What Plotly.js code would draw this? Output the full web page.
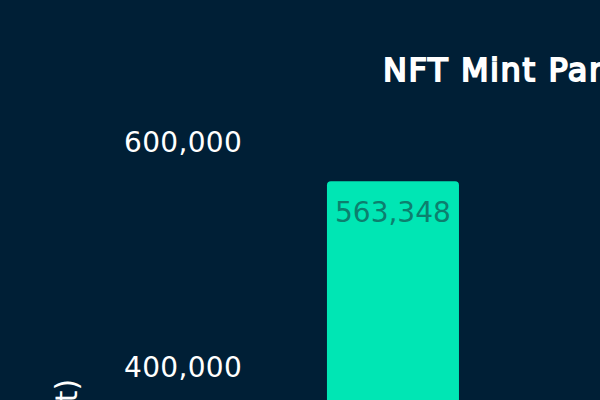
<!DOCTYPE html>
<html>
<head>
<meta charset="utf-8">
<script src="https://cdn.plot.ly/plotly-3.0.1.min.js"></script>
<style>
html, body { margin: 0; padding: 0; width: 600px; height: 400px; overflow: hidden; background: #001f36; }
/* title in the reference is a smeared regular face, not the real bold */
.gtitle { stroke: #ffffff; stroke-width: 1.9px; letter-spacing: 1.6px; }
.ytick text { letter-spacing: 0.3px; }
.yaxislayer-above { transform: translateY(2.5px); }
</style>
</head>
<body>
<div id="chart"></div>
<script>
var categories = ['Mint'];
var counts = [563348];
var tickValues = [0, 200000, 400000, 600000];
var tickLabels = ['0', '200,000', '400,000', '600,000'];

var trace = {
    type: 'bar',
    x: categories,
    y: counts,
    width: 1,
    marker: { color: '#00e6b4' }
};

var layout = {
    width: 1200,
    height: 900,
    margin: { l: 250, r: 150, t: 117.5, b: 77.5 },
    paper_bgcolor: '#001f36',
    plot_bgcolor: '#001f36',
    font: { family: 'DejaVu Sans', color: '#ffffff' },
    barcornerradius: 4,
    showlegend: false,
    title: {
        text: 'NFT Mint Participation',
        font: { size: 32, color: '#ffffff' },
        xref: 'container',
        x: 383 / 1200,
        xanchor: 'left',
        yref: 'container',
        y: 1 - 70 / 900,
        yanchor: 'middle'
    },
    xaxis: {
        range: [-1.083, 4.977],
        showgrid: false,
        zeroline: false,
        showline: false,
        showticklabels: false
    },
    yaxis: {
        range: [-7111, 619556],
        tickvals: tickValues,
        ticktext: tickLabels,
        tickfont: { size: 28, color: '#ffffff' },
        ticklabelstandoff: 7,
        showgrid: false,
        zeroline: false,
        showline: false,
        title: { text: 'Mint (count)', font: { size: 30, color: '#ffffff' }, standoff: 37 }
    },
    annotations: [{
        x: categories[0],
        y: counts[0],
        text: counts[0].toLocaleString('en-US'),
        yshift: -31,
        yanchor: 'middle',
        showarrow: false,
        font: { size: 28, color: '#0c7f6e' }
    }]
};

Plotly.newPlot('chart', [trace], layout, { displayModeBar: false, staticPlot: true });
</script>
</body>
</html>
